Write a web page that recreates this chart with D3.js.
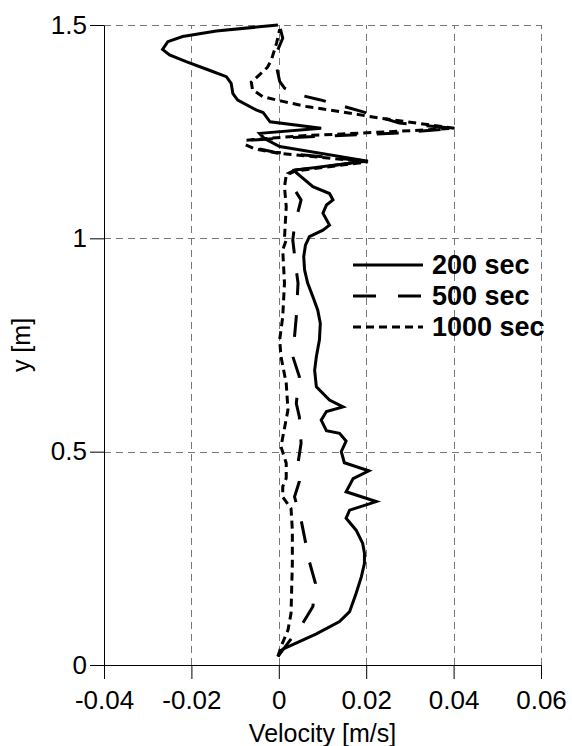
<!DOCTYPE html>
<html>
<head>
<meta charset="utf-8">
<script src="https://cdn.jsdelivr.net/npm/d3@7"></script>
<style>
  html, body { margin: 0; padding: 0; background: #fff; }
  text { font-family: Arial, "Liberation Sans", sans-serif; }
</style>
</head>
<body>
<div id="chart"></div>
<script>
// velocity profiles [velocity m/s, height m]
var series200 = [
  [-0.0002,0.02],[0.0009,0.037],[0.0047,0.055],[0.0086,0.073],[0.0139,0.102],
  [0.0162,0.125],[0.0177,0.168],[0.0189,0.207],[0.0196,0.238],[0.0196,0.262],
  [0.0192,0.285],[0.0177,0.316],[0.0154,0.344],[0.0162,0.363],[0.0223,0.383],
  [0.0154,0.406],[0.0170,0.437],[0.0206,0.455],[0.0150,0.474],[0.0143,0.5],
  [0.0154,0.525],[0.0139,0.543],[0.0109,0.549],[0.0097,0.574],[0.0109,0.594],
  [0.0147,0.605],[0.0116,0.621],[0.0086,0.652],[0.0082,0.691],[0.0086,0.723],
  [0.0093,0.762],[0.0095,0.801],[0.0089,0.832],[0.0078,0.863],[0.0066,0.895],
  [0.0059,0.926],[0.0057,0.957],[0.0061,0.984],[0.0070,1.004],[0.0101,1.019],
  [0.0116,1.031],[0.0101,1.059],[0.0109,1.078],[0.0124,1.090],[0.0116,1.105],
  [0.0078,1.121],[0.0040,1.154],[0.0036,1.160],[0.0204,1.181],[0.0002,1.215],
  [-0.0033,1.234],[-0.0044,1.246],[0.0097,1.258],[-0.0020,1.273],[-0.0036,1.295],
  [-0.0052,1.301],[-0.0094,1.324],[-0.0105,1.339],[-0.0109,1.363],[-0.0120,1.379],
  [-0.0159,1.394],[-0.0212,1.414],[-0.0250,1.430],[-0.0266,1.443],[-0.0254,1.461],
  [-0.0220,1.473],[-0.0143,1.486],[-0.0002,1.5]
];
var series500 = [
  [-0.0002,0.02],[0.0020,0.05],[0.0055,0.098],[0.0078,0.137],[0.0084,0.191],
  [0.0070,0.242],[0.0051,0.340],[0.0036,0.394],[0.0047,0.430],[0.0044,0.473],
  [0.0051,0.520],[0.0047,0.582],[0.0040,0.613],[0.0047,0.676],[0.0032,0.723],
  [0.0040,0.816],[0.0044,0.895],[0.0040,0.926],[0.0032,0.996],[0.0036,1.03],
  [0.0051,1.09],[0.0032,1.121],[0.0021,1.152],[0.0038,1.160],[0.0203,1.181],
  [-0.0010,1.202],[-0.0033,1.207],[-0.0072,1.216],[-0.0067,1.230],[0.0047,1.237],
  [0.0276,1.247],[0.0402,1.258],[0.0276,1.270],[0.0191,1.297],[0.0093,1.325],
  [0.0047,1.336],[0.0013,1.352],[0.0002,1.368],[-0.0005,1.401],[-0.0003,1.44],
  [0.0009,1.469],[0.0002,1.497]
];
var series1000 = [
  [-0.0002,0.02],[0.0005,0.043],[0.0021,0.082],[0.0028,0.121],[0.0031,0.238],
  [0.0031,0.316],[0.0028,0.367],[0.0009,0.394],[0.0009,0.418],[0.0017,0.438],
  [0.0017,0.473],[0.0005,0.512],[0.0021,0.598],[0.0017,0.660],[0.0005,0.723],
  [0.0002,0.762],[0.0009,0.816],[0.0013,0.895],[0.0009,0.973],[0.0017,0.996],
  [0.0013,1.0],[0.0017,1.074],[0.0013,1.121],[0.0017,1.148],[0.0038,1.158],
  [0.0203,1.179],[-0.0005,1.200],[-0.0056,1.210],[-0.0076,1.219],[-0.0074,1.230],
  [0.0047,1.240],[0.0276,1.251],[0.0402,1.258],[0.0230,1.282],[0.0116,1.301],
  [0.0063,1.309],[0.0009,1.321],[-0.0037,1.332],[-0.0060,1.348],[-0.0063,1.366],
  [-0.0037,1.390],[-0.0026,1.401],[-0.0017,1.418],[-0.0005,1.458],[0.0002,1.49]
];
var seriesNames = ['200 sec', '500 sec', '1000 sec'];
var xTicks = [-0.04, -0.02, 0, 0.02, 0.04, 0.06];
var xTickLabels = ['-0.04', '-0.02', '0', '0.02', '0.04', '0.06'];
var yTicks = [0, 0.5, 1, 1.5];
var yTickLabels = ['0', '0.5', '1', '1.5'];

var W = 572, H = 746;
var margin = { top: 25, right: 31, bottom: 81, left: 104 };

var svg = d3.select('#chart')
  .append('svg')
  .attr('width', W)
  .attr('height', H);

var x = d3.scaleLinear()
  .domain([-0.04, 0.06])
  .range([margin.left, W - margin.right]);

var y = d3.scaleLinear()
  .domain([0, 1.5])
  .range([H - margin.bottom, margin.top]);

// grid
var grid = svg.append('g')
  .attr('stroke', '#777')
  .attr('stroke-width', 1)
  .attr('stroke-dasharray', '7,5');

grid.selectAll('line.vx')
  .data(xTicks.slice(1))
  .enter()
  .append('line')
  .attr('x1', d => Math.round(x(d)) + 0.5)
  .attr('x2', d => Math.round(x(d)) + 0.5)
  .attr('y1', y(0))
  .attr('y2', y(1.5));

grid.selectAll('line.hy')
  .data(yTicks.slice(1))
  .enter()
  .append('line')
  .attr('y1', d => Math.round(y(d)) + 0.5)
  .attr('y2', d => Math.round(y(d)) + 0.5)
  .attr('x1', x(-0.04))
  .attr('x2', x(0.06));

// x-axis
var xAxis = svg.append('g')
  .attr('transform', `translate(0, ${y(0)})`);

xAxis.call(d3.axisBottom(x)
    .tickValues(d3.range(-0.04, 0.0601, 0.01))
    .tickSize(7)
    .tickSizeOuter(0)
    .tickFormat(''));
xAxis.call(d3.axisBottom(x)
    .tickValues(xTicks)
    .tickSize(14)
    .tickSizeOuter(0)
    .tickPadding(12)
    .tickFormat((d, i) => xTickLabels[i]));
xAxis.selectAll('text')
  .attr('font-size', '26px')
  .attr('fill', '#000');
xAxis.selectAll('path, line').attr('stroke', '#000');

// y-axis
var yAxis = svg.append('g')
  .attr('transform', `translate(${x(-0.04)}, 0)`);

yAxis.call(d3.axisLeft(y)
    .tickValues(d3.range(0, 1.501, 0.1))
    .tickSize(7)
    .tickSizeOuter(0)
    .tickFormat(''));
yAxis.call(d3.axisLeft(y)
    .tickValues(yTicks)
    .tickSize(14)
    .tickSizeOuter(0)
    .tickPadding(3)
    .tickFormat((d, i) => yTickLabels[i]));
yAxis.selectAll('text')
  .attr('font-size', '26px')
  .attr('fill', '#000');
yAxis.selectAll('path, line').attr('stroke', '#000');

// axis titles
svg.append('text')
  .attr('x', (x(-0.04) + x(0.06)) / 2)
  .attr('y', 742)
  .attr('text-anchor', 'middle')
  .attr('font-size', '25px')
  .text('Velocity [m/s]');

svg.append('text')
  .attr('transform', `translate(30, ${(y(0) + y(1.5)) / 2}) rotate(-90)`)
  .attr('text-anchor', 'middle')
  .attr('font-size', '25px')
  .text('y [m]');

// lines
var line = d3.line()
  .x(d => x(d[0]))
  .y(d => y(d[1]));

var dashes = [null, '22,20', '8,5'];
var allSeries = [series200, series500, series1000];

svg.append('g')
  .selectAll('path')
  .data(allSeries)
  .enter()
  .append('path')
  .attr('d', d => line(d))
  .attr('fill', 'none')
  .attr('stroke', '#000')
  .attr('stroke-width', 3)
  .attr('stroke-linejoin', 'miter')
  .attr('stroke-dasharray', (d, i) => dashes[i]);

// legend
var legend = svg.append('g')
  .attr('transform', 'translate(353, 265)');

var rows = legend.selectAll('g')
  .data(seriesNames)
  .enter()
  .append('g')
  .attr('transform', (d, i) => `translate(0, ${i * 31})`);

rows.append('line')
  .attr('x1', 0)
  .attr('x2', 70)
  .attr('stroke', '#000')
  .attr('stroke-width', 3)
  .attr('stroke-dasharray', (d, i) => i === 1 ? '23,22' : dashes[i]);

rows.append('text')
  .attr('x', 79)
  .attr('y', 9)
  .attr('font-size', '27px')
  .attr('font-weight', 'bold')
  .text(d => d);
</script>
</body>
</html>
